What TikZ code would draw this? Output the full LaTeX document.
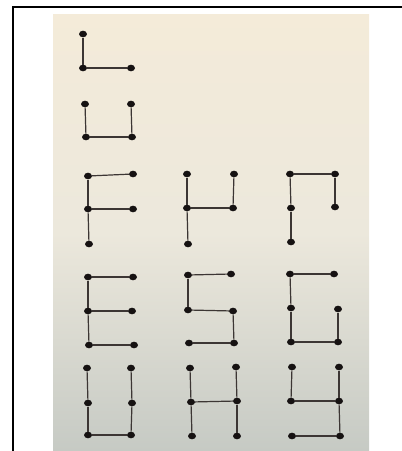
\documentclass[tikz,border=0pt]{standalone}
\usepackage{xcolor}
\usepackage{tikz}
\usetikzlibrary{shapes.geometric}
\definecolor{papertop}{RGB}{244, 235, 217}
\definecolor{papermid}{RGB}{236, 232, 220}
\definecolor{paperbot}{RGB}{198, 202, 196}
\definecolor{inkdot}{RGB}{22, 18, 18}
\definecolor{inkline}{RGB}{60, 54, 52}

\begin{document}
\begin{tikzpicture}[x=1pt, y=-1pt,
    dot/.style={ellipse, fill=inkdot, inner sep=0pt, minimum width=8pt, minimum height=6.6pt},
    edge/.style={inkline, line width=1.2pt}]
    \useasboundingbox (0,0) rectangle (402,451);

    % Photo of the page
    \shade[top color=papertop, bottom color=paperbot, middle color=papermid]
        (53,14) rectangle (369,451);

    % Frame
    \draw[black, line width=2.5pt] (13,451) -- (13,7) -- (402,7);

    % Vertices
    \foreach \name/\x/\y in {l1/83/34, l2/83/68, l3/131/68,
        u1/85/104, u2/131/104, u3/86/137, u4/132/137,
        f1/88/176, f2/133/174, f3/88/209, f4/133/209, f5/89/244,
        h1/187/174, h2/234/174, h3/187/208, h4/233/208, h5/188/244,
        n1/290/174, n2/335/174, n3/291/208, n4/335/207, n5/291/242,
        e1/88/277, e2/133/277, e3/88/311, e4/132/311, e5/89/345, e6/134/345,
        s1/188/275, s2/231/274, s3/188/310, s4/233/311, s5/189/343, s6/234/343,
        g1/290/274, g2/334/274, g3/291/308, g4/338/309, g5/291/342, g6/338/342,
        w1/87/368, w2/131/368, w3/88/403, w4/132/403, w5/88/435, w6/131/435,
        k1/190/368, k2/236/367, k3/191/402, k4/237/401, k5/192/436, k6/237/436,
        q1/292/367, q2/339/367, q3/291/401, q4/339/401, q5/292/436, q6/340/436} {
        \node[dot] (\name) at (\x,\y) {};
    }

    % Edges
    \foreach \a/\b in {l1/l2, l2/l3,
        u1/u3, u3/u4, u4/u2,
        f1/f2, f1/f3, f3/f4, f3/f5,
        h1/h3, h3/h4, h4/h2, h3/h5,
        n1/n2, n2/n4, n1/n3, n3/n5,
        e1/e2, e1/e3, e3/e4, e3/e5, e5/e6,
        s1/s2, s1/s3, s3/s4, s4/s6, s5/s6,
        g1/g2, g1/g3, g3/g5, g5/g6, g6/g4,
        w1/w3, w3/w5, w5/w6, w6/w4, w4/w2,
        k1/k3, k3/k5, k3/k4, k4/k2, k4/k6,
        q1/q3, q3/q4, q2/q4, q4/q6, q5/q6} {
        \draw[edge] (\a) -- (\b);
    }
\end{tikzpicture}
\end{document}
